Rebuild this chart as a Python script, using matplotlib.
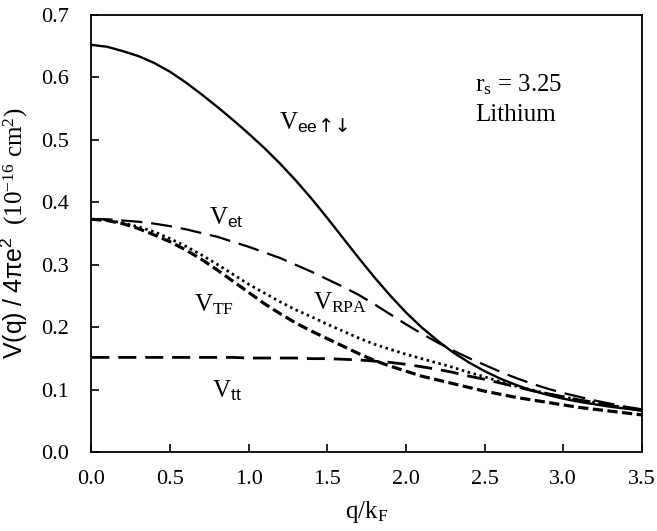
import numpy as np
import matplotlib
matplotlib.use("Agg")
import matplotlib.pyplot as plt
import matplotlib.ticker as plt_ticker

# q / k_F grid, step 0.1
q_over_kf = np.round(np.arange(0, 36) * 0.1, 1)

v_ee = [0.652, 0.649, 0.642, 0.634, 0.623, 0.609, 0.592, 0.573, 0.553, 0.532,
        0.510, 0.487, 0.462, 0.435, 0.406, 0.375, 0.343, 0.311, 0.280, 0.251,
        0.224, 0.200, 0.179, 0.160, 0.144, 0.130, 0.118, 0.108, 0.099, 0.092,
        0.086, 0.081, 0.077, 0.073, 0.070, 0.067]
v_et = [0.373, 0.373, 0.371, 0.369, 0.366, 0.362, 0.357, 0.351, 0.345, 0.337,
        0.329, 0.320, 0.311, 0.300, 0.289, 0.277, 0.265, 0.252, 0.237, 0.221,
        0.205, 0.190, 0.176, 0.163, 0.151, 0.140, 0.129, 0.119, 0.110, 0.102,
        0.095, 0.089, 0.083, 0.078, 0.073, 0.069]
v_tf = [0.373, 0.371, 0.366, 0.358, 0.348, 0.337, 0.324, 0.309, 0.292, 0.274,
        0.256, 0.238, 0.222, 0.207, 0.194, 0.182, 0.170, 0.158, 0.147, 0.138,
        0.130, 0.122, 0.116, 0.110, 0.104, 0.098, 0.093, 0.088, 0.084, 0.080,
        0.076, 0.072, 0.069, 0.066, 0.063, 0.060]
v_rpa = [0.373, 0.372, 0.367, 0.361, 0.353, 0.342, 0.330, 0.316, 0.301, 0.285,
         0.269, 0.255, 0.241, 0.228, 0.217, 0.205, 0.194, 0.183, 0.173, 0.165,
         0.157, 0.150, 0.143, 0.136, 0.128, 0.121, 0.113, 0.106, 0.100, 0.094,
         0.089, 0.084, 0.080, 0.076, 0.071, 0.067]
v_tt = [0.152, 0.152, 0.152, 0.152, 0.152, 0.152, 0.152, 0.152, 0.152, 0.152,
        0.151, 0.151, 0.151, 0.151, 0.150, 0.150, 0.149, 0.148, 0.146, 0.144,
        0.141, 0.137, 0.133, 0.128, 0.122, 0.117, 0.111, 0.105, 0.099, 0.094,
        0.089, 0.084, 0.080, 0.075, 0.071, 0.067]

x_ticks = [0.0, 0.5, 1.0, 1.5, 2.0, 2.5, 3.0, 3.5]
y_ticks = [0.0, 0.1, 0.2, 0.3, 0.4, 0.5, 0.6, 0.7]

plt.rcParams["font.family"] = ["Liberation Serif", "DejaVu Serif"]
plt.rcParams["mathtext.fontset"] = "custom"
plt.rcParams["mathtext.rm"] = "Liberation Serif"
plt.rcParams["mathtext.it"] = "Liberation Serif:italic"
plt.rcParams["mathtext.sf"] = "Liberation Sans"

fig = plt.figure(figsize=(6.57, 5.31), dpi=100)
ax = fig.add_axes([0.139, 0.148, 0.838, 0.824])

ax.plot(q_over_kf, v_ee, color="black", lw=1.7, linestyle="-")
ax.plot(q_over_kf, v_et, color="black", lw=1.6, linestyle=(0, (9.5, 4)))
ax.plot(q_over_kf, v_tt, color="black", lw=2.0, linestyle=(0, (6.5, 3.2)))
ax.plot(q_over_kf, v_rpa, color="black", lw=2.0, linestyle=(0, (0.9, 1.3)))
ax.plot(q_over_kf, v_tf, color="black", lw=2.3, linestyle=(0, (3.2, 1.4)))

ax.set_xlim(0, 3.5)
ax.set_ylim(0, 0.7)
ax.set_xticks(x_ticks)
ax.set_yticks(y_ticks)
ax.xaxis.set_major_formatter(plt_ticker.FormatStrFormatter("%.1f"))
ax.yaxis.set_major_formatter(plt_ticker.FormatStrFormatter("%.1f"))
ax.tick_params(direction="in", length=6, width=1.2, labelsize=16)
ax.tick_params(axis="x", pad=13)
ax.tick_params(axis="y", pad=16)
for s in ax.spines.values():
    s.set_linewidth(1.3)

ax.set_xlabel(r"q/k$_\mathrm{F}$", fontsize=18, labelpad=7)
ax.set_ylabel(r"$\mathsf{V(q)\ /\ 4πe^2}$  (10$^{\mathrm{-16}}$ cm$^2$)", fontsize=18, labelpad=8)

lbl = 18
t_ee = ax.text(1.19, 0.527, r"V$_\mathsf{ee}$", fontsize=lbl, va="center")
ax.text(0.75, 0.376, r"V$_\mathsf{et}$", fontsize=lbl, va="center")
ax.text(0.65, 0.236, r"V$_\mathrm{TF}$", fontsize=lbl, va="center")
ax.text(1.41, 0.239, r"V$_\mathrm{RPA}$", fontsize=lbl, va="center")
ax.text(0.77, 0.098, r"V$_\mathsf{tt}$", fontsize=lbl, va="center")
ax.text(2.44, 0.588, r"r$_\mathrm{s}$ = 3.25", fontsize=lbl, va="center")
ax.text(2.44, 0.540, "Lithium", fontsize=lbl, va="center")

# spin arrows drawn bigger than the subscript, right after "V_ee"
fig.canvas.draw()
bb = t_ee.get_window_extent()
fig.text(bb.x1 + 1, bb.y0 - 1, "↑↓", fontsize=14, family="DejaVu Sans",
         ha="left", va="bottom", transform=None)

fig.savefig("out.png", dpi=100)
